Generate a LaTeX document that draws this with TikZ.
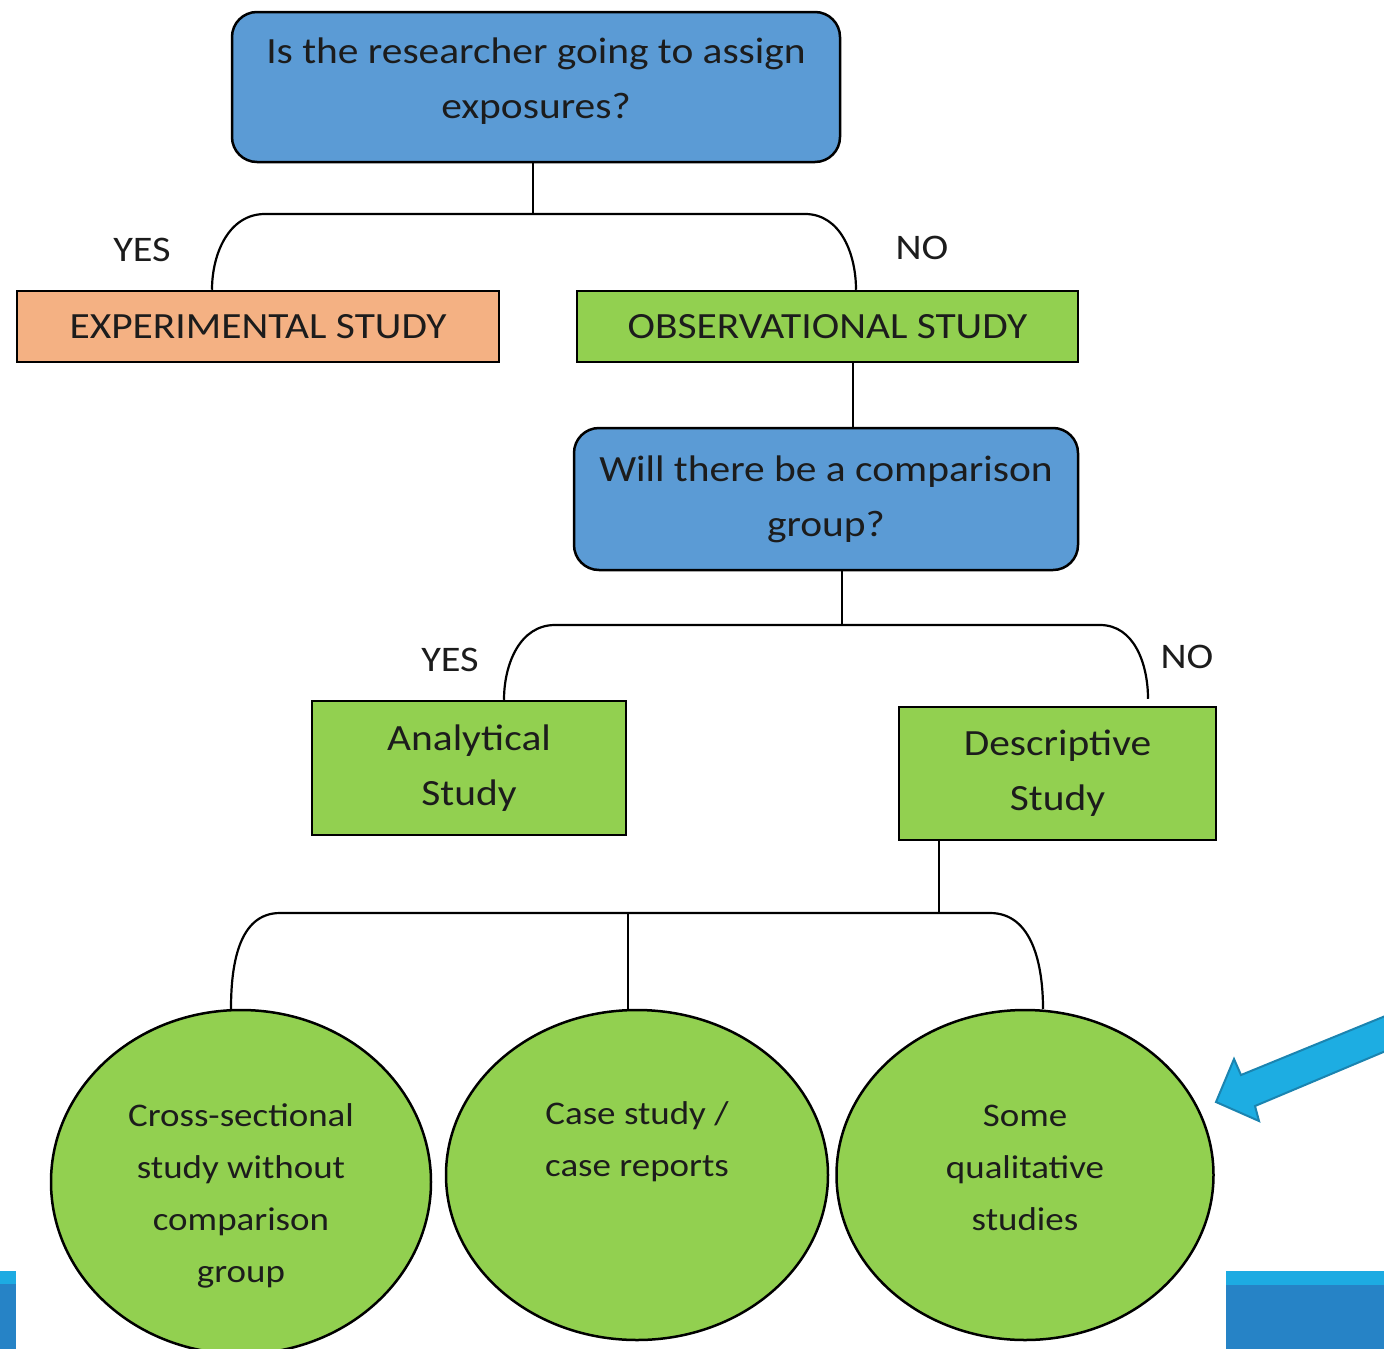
\documentclass[tikz,border=0pt]{standalone}
\usepackage{fontspec}
\setmainfont[FakeStretch=1.12]{Carlito}
\usetikzlibrary{shapes.geometric, arrows, positioning}
\definecolor{qblue}{HTML}{5B9BD5}
\definecolor{sgreen}{HTML}{92D050}
\definecolor{sorange}{HTML}{F4B183}
\definecolor{arrowblue}{HTML}{1DADE2}
\definecolor{arrowedge}{HTML}{1B84B0}
\definecolor{barlight}{HTML}{1DABE2}
\definecolor{bardark}{HTML}{2683C6}
\definecolor{inkgray}{HTML}{1C1C1C}
\tikzset{
	question/.style={
		rectangle,
		rounded corners=25pt,
		minimum width=608pt,
		minimum height=150pt,
		text centered,
		align=center,
		draw=black,
		line width=2.5pt,
		fill=qblue,
		text=inkgray,
		font=\fontsize{37}{55}\selectfont
	},
	study/.style={
		rectangle,
		text centered,
		align=center,
		draw=black,
		line width=2.5pt,
		fill=sgreen,
		text=inkgray,
		font=\fontsize{37}{55}\selectfont
	},
	kind/.style={
		ellipse,
		draw=black,
		line width=2.5pt,
		fill=sgreen
	},
	kindtext/.style={
		align=center,
		text=inkgray,
		font=\fontsize{33}{52}\selectfont
	},
	answer/.style={text=inkgray, font=\fontsize{36}{40}\selectfont},
	link/.style={line width=2.2pt, black}
}

\begin{document}
\begin{tikzpicture}[x=1pt, y=-1pt]
				\useasboundingbox (0,0) rectangle (1384,1349);

				\node (assign) [question] at (536,87) {};
				\node (assigntext) [align=center, text=inkgray, font=\fontsize{37}{55}\selectfont] at (536,81) {Is the researcher going to assign\\exposures?};
				\node (exper) [study, fill=sorange, minimum width=482pt, minimum height=71pt] at (258,326.5) {EXPERIMENTAL STUDY};
				\node (obs) [study, minimum width=501pt, minimum height=71pt] at (827.5,326.5) {OBSERVATIONAL STUDY};
				\node (compare) [question, minimum width=504pt, minimum height=142pt] at (826,499) {Will there be a comparison\\group?};
				\node (analytic) [study, minimum width=314pt, minimum height=134pt] at (469,768) {Analytical\\Study};
				\node (descr) [study, minimum width=317pt, minimum height=133pt] at (1057.5,773.5) {Descriptive\\Study};

				\node (cross) [kind, minimum width=380pt, minimum height=344pt] at (241,1182) {};
				\node (cases) [kind, minimum width=382pt, minimum height=330pt] at (637,1175) {};
				\node (qual) [kind, minimum width=377pt, minimum height=330pt] at (1025,1175) {};
				\node (crosstext) [kindtext] at (241,1196) {Cross-sectional\\study without\\comparison\\group};
				\node (casestext) [kindtext] at (637,1142) {Case study /\\case reports};
				\node (qualtext) [kindtext] at (1025,1168) {Some\\qualitative\\studies};

				\node (yes1) [answer] at (142,250) {YES};
				\node (no1) [answer] at (922,248) {NO};
				\node (yes2) [answer] at (450,660) {YES};
				\node (no2) [answer] at (1187,657) {NO};

				% first split
				\draw [link] ([xshift=-3pt]assign.south) -- ++(0,52);
				\draw [link] ([xshift=-46pt]exper.north) to[out=90,in=180] (265,214) -- (805,214) to[out=0,in=90] ([xshift=28.5pt]obs.north);

				% second split
				\draw [link] ([xshift=25.5pt]obs.south) -- ([xshift=27pt]compare.north);
				\draw [link] ([xshift=16pt]compare.south) -- ++(0,55);
				\draw [link] ([xshift=35pt]analytic.north) to[out=90,in=180] (555,625) -- (1100,625) to[out=0,in=90] ([xshift=90.5pt,yshift=7pt]descr.north);

				% third split
				\draw [link] ([xshift=-118.5pt]descr.south) -- ++(0,73);
				\draw [link] ([xshift=-10pt]cross.north) to[out=90,in=180] (280,913) -- (990,913) to[out=0,in=90] ([xshift=18pt]qual.north);
				\draw [link] ([xshift=-9pt]cases.north) -- ++(0,-97);

				% pointer arrow
				\draw [fill=arrowblue, draw=arrowedge, line width=2pt]
					(1216,1102) -- (1234,1059) -- (1241,1075) -- (1400,1010) -- (1400,1045) -- (1255,1106) -- (1259,1121) -- cycle;

				% corner bars
				\fill [bardark] (0,1271) rectangle (16,1349);
				\fill [barlight] (0,1271) rectangle (16,1284);
				\fill [bardark] (1226,1271) rectangle (1384,1349);
				\fill [barlight] (1226,1271) rectangle (1384,1285);
			\end{tikzpicture}
\end{document}
